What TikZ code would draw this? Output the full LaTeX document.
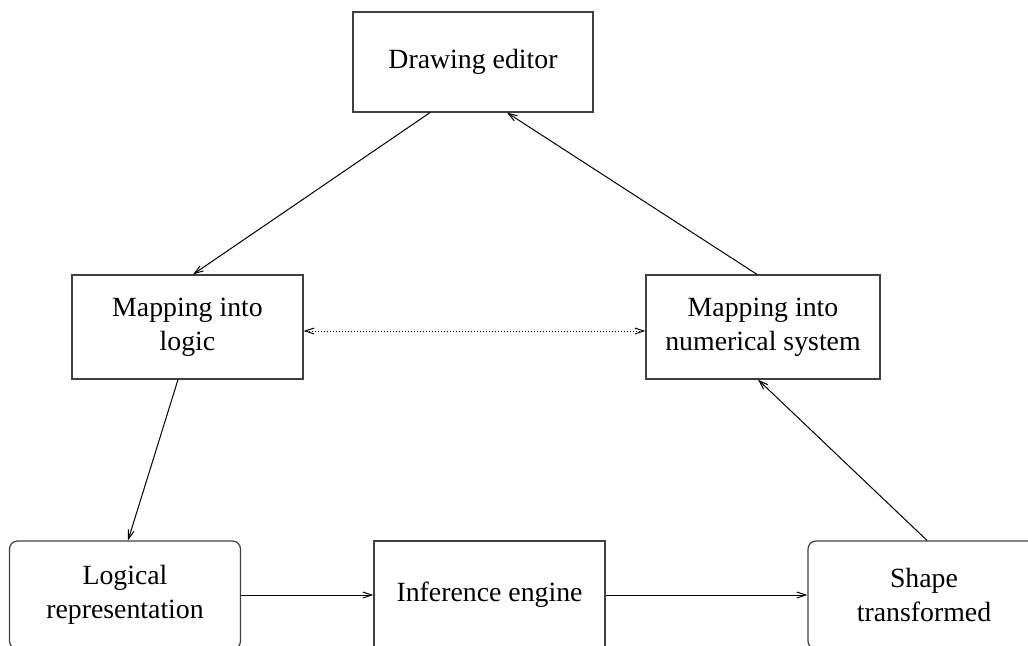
\documentclass[tikz,border=0pt]{standalone}
\usepackage{fontspec}
\setmainfont{Liberation Serif}
\usetikzlibrary{arrows.meta}

\begin{document}
\begin{tikzpicture}[x=0.5pt,y=-0.5pt,
		box/.style={rectangle,draw=black!75,line width=0.6pt,align=center,minimum height=52pt,minimum width=115.5pt},
		rbox/.style={box,rounded corners=4pt,minimum height=54pt},
		arr/.style={line width=0.5pt,-{Straight Barb[length=4.5pt,width=3pt]}}]
		\fontsize{13.9}{17}\selectfont
		\useasboundingbox (0,0) rectangle (1028,645);

		\node[box,minimum width=120pt,minimum height=50pt] (de) at (473,62) {Drawing editor};
		\node[box] (ml) at (187.5,327) {Mapping into\\logic};
		\node[box,minimum width=117pt] (mn) at (763,327) {Mapping into\\numerical system};
		\node[rbox] (lr) at (125,595) {Logical\\representation};
		\node[box,minimum height=54pt] (ie) at (489.5,595) {Inference engine};
		\node[rbox,minimum width=116pt] (st) at (924,595) {Shape\\transformed};

		\draw[arr] ([xshift=-21.5pt]de.south) -- ([xshift=2.75pt]ml.north);
		\draw[arr] ([xshift=-3pt]mn.north) -- ([xshift=17pt]de.south);
		\draw[arr] ([xshift=-4.75pt]ml.south) -- ([xshift=1.5pt]lr.north);
		\draw[arr] ([xshift=1.5pt]st.north) -- ([xshift=-2.5pt]mn.south);
		\draw[arr] (lr.east) -- (ie.west);
		\draw[arr] (ie.east) -- (st.west);
		\draw[arr,densely dotted,{Straight Barb[length=4.5pt,width=3pt]}-{Straight Barb[length=4.5pt,width=3pt]}] ([yshift=-2pt]ml.east) -- ([yshift=-2pt]mn.west);
	\end{tikzpicture}
\end{document}
